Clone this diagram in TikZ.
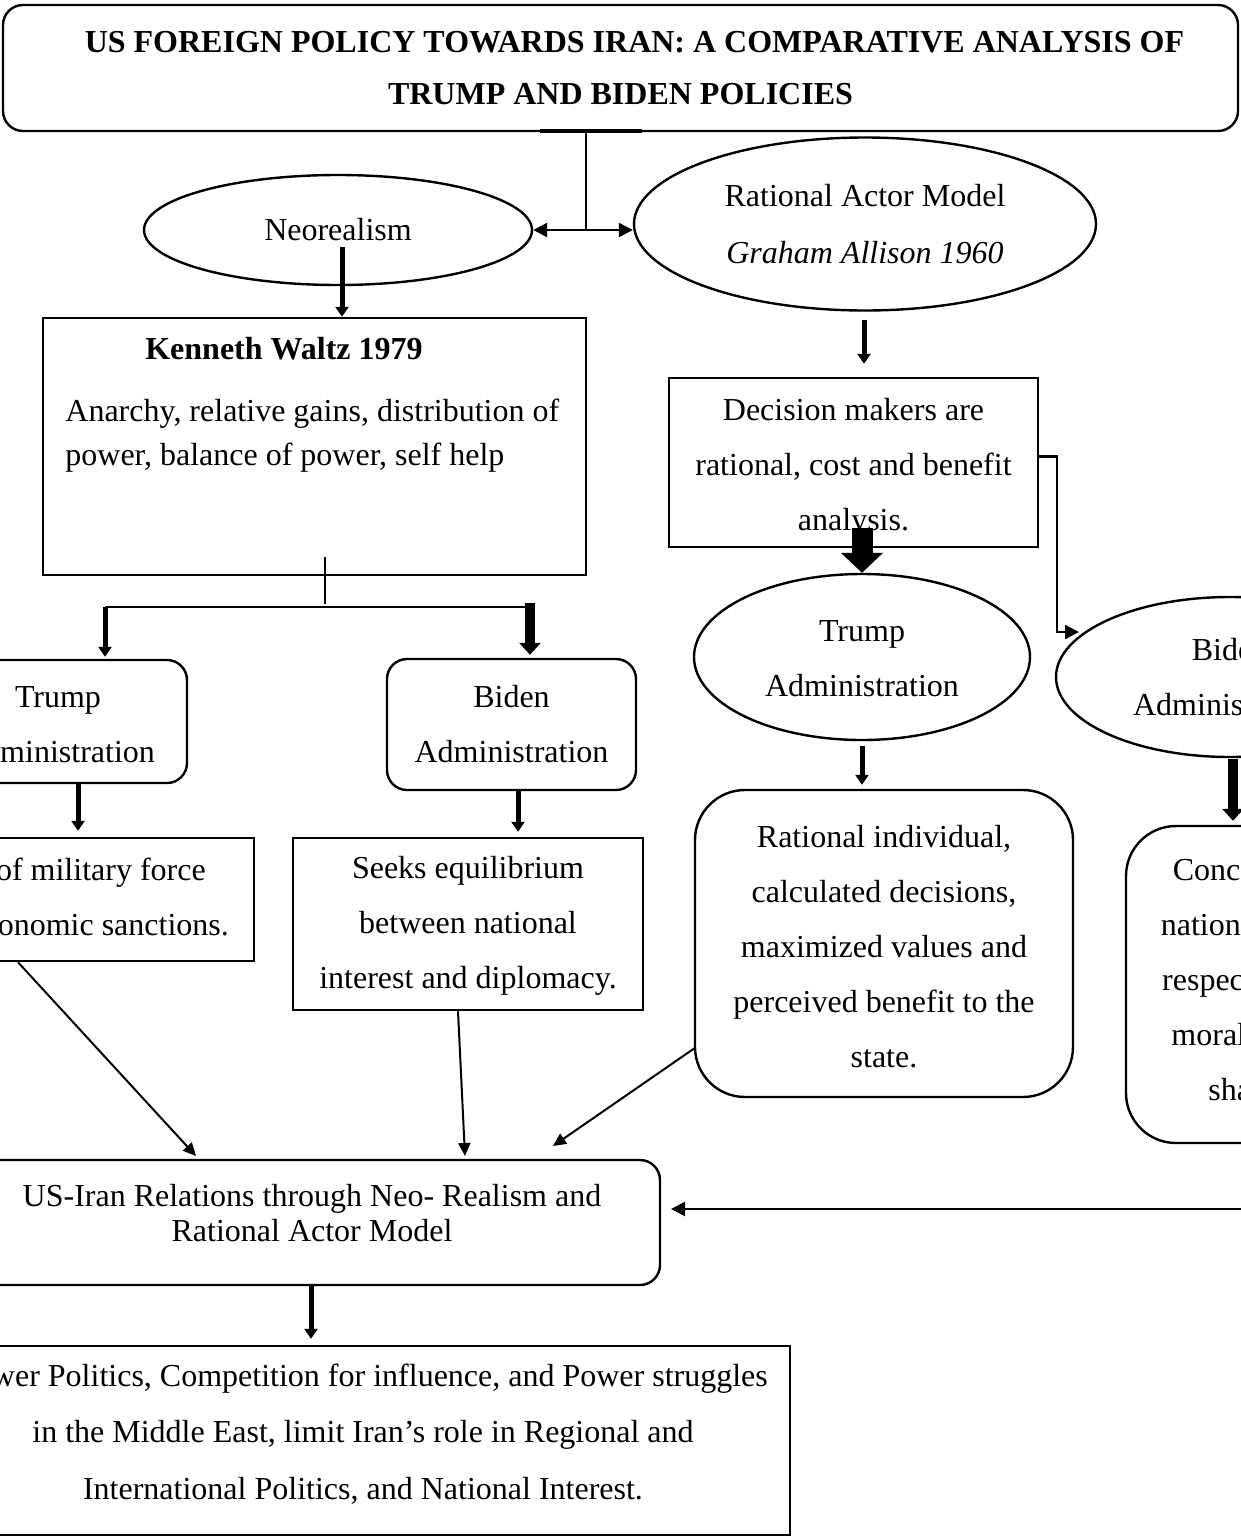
\documentclass[tikz,border=0pt]{standalone}
\usepackage{fontspec}
\setmainfont{Liberation Serif}
\usetikzlibrary{shapes.geometric,arrows.meta,calc}
\begin{document}
\begin{tikzpicture}[x=0.5pt,y=-0.5pt,
  every node/.style={font=\fontsize{16}{27.5}\selectfont, inner sep=0pt},
  bx/.style={draw, line width=1.2pt, rectangle, align=center},
  rbx/.style={bx, rounded corners=10pt},
  ell/.style={draw, line width=1.2pt, ellipse, align=center},
  conn/.style={line width=1.2pt, -{Triangle[length=7pt,width=7pt]}},
  tarr/.style={line width=2.5pt, -{Triangle[length=5pt,width=6.5pt]}},
  warr/.style={line width=5pt, -{Triangle[length=6pt,width=10.5pt]}},
  barr/.style={line width=10.5pt, -{Triangle[length=10pt,width=20.5pt]}},
  diag/.style={line width=1pt, -{Triangle[length=6.5pt,width=6pt]}}]
\fill[white] (0,0) rectangle (1241,1537);
\useasboundingbox (0,0) rectangle (1241,1537);
\clip (0,0) rectangle (1241,1537);

% title
\node[rbx, minimum width=617.5pt, minimum height=63pt, font=\bfseries\fontsize{16}{26}\selectfont] (title) at (620.5,68)
  {\hspace*{14pt}US FOREIGN POLICY TOWARDS IRAN: A COMPARATIVE ANALYSIS OF\\TRUMP AND BIDEN POLICIES};

% theories
\node[ell, minimum width=194pt, minimum height=55pt] (neo) at (338,230) {Neorealism};
\node[ell, minimum width=231pt, minimum height=86.5pt, font=\fontsize{16}{28.5}\selectfont] (rat) at (865,224)
  {Rational Actor Model\\\textit{Graham Allison 1960}};

% Waltz
\node[bx, minimum width=271.5pt, minimum height=128.5pt] (waltz) at (314.5,446.5) {};
\node[font=\bfseries\fontsize{16}{22}\selectfont] (kw) at (284,349) {Kenneth Waltz 1979};
\node[anchor=west, align=left, font=\fontsize{16}{22}\selectfont] (wt) at (65,436)
  {Anarchy, relative gains, distribution of\\power, balance of power, self help};

% left branch
\node[rbx, minimum width=129pt, minimum height=61.5pt] (tl) at (58,721.5) {};
\node[align=center] (tlt) at (58,725) {Trump\\Administration};
\node[rbx, minimum width=124.5pt, minimum height=65.5pt] (bl) at (511.5,724.5) {Biden\\Administration};
\node[bx, minimum width=182pt, minimum height=61.5pt] (lb) at (72,899.5) {};
\node[align=center] (lbt) at (72,897) {Use of military force\\and economic sanctions.};
\node[bx, minimum width=175pt, minimum height=86pt] (seeks) at (468,924) {};
\node[align=center] (seekst) at (468,926) {Seeks equilibrium\\between national\\interest and diplomacy.};

% right branch
\node[bx, minimum width=184.5pt, minimum height=84.5pt] (dec) at (853.5,462.5) {};
\node[align=center] (dect) at (853.5,467.5) {Decision makers are\\rational, cost and benefit\\analysis.};
\node[ell, minimum width=168pt, minimum height=83pt] (te) at (862,657) {};
\node[align=center] (tet) at (862,659) {Trump\\Administration};
\node[ell, minimum width=174pt, minimum height=80pt] (be) at (1230,677) {Biden\\Administration};
\node[rbx, rounded corners=25pt, minimum width=189pt, minimum height=153.5pt] (ri) at (884,943.5) {};
\node[align=center] (rit) at (884,947)
  {Rational individual,\\calculated decisions,\\maximized values and\\perceived benefit to the\\state.};
\node[rbx, rounded corners=25pt, minimum width=189pt, minimum height=158.5pt] (rc) at (1315,984.5) {};
\node[align=center] (rct) at (1315,980)
  {Concerned about their\\national interest, human\\respect for international\\moral obligations, and\\shared concerns.};

% synthesis
\node[rbx, minimum width=348pt, minimum height=62.5pt] (usi) at (312,1222.5) {};
\node[align=center, font=\fontsize{16}{17.5}\selectfont] (usit) at (312,1213.5)
  {US-Iran Relations through Neo- Realism and\\Rational Actor Model};
\node[bx, minimum width=427pt, minimum height=94.5pt] (fin) at (363,1440.5) {};
\node[align=center, font=\fontsize{16}{28.25}\selectfont] (fint) at (363,1434)
  {Power Politics, Competition for influence, and Power struggles\\in the Middle East, limit Iran’s role in Regional and\\International Politics, and National Interest.};

% connectors from title
\coordinate (tb1) at (540,131);
\coordinate (tb2) at (642,131);
\coordinate (tj) at (586,131);
\coordinate (tk) at (586,230);
\draw[line width=2pt] (tb1) -- (tb2);
\draw[conn] (tj) |- (neo.east);
\draw[conn] (tk) -- (tk -| rat.west);

% neo -> waltz
\coordinate (nw) at ($(neo.center)+(4,17)$);
\draw[tarr] (nw) -- (nw |- waltz.north);

% rat -> dec
\coordinate (rs) at ($(rat.south)+(-1,8)$);
\coordinate (re) at ($(rs |- dec.north)+(0,-13)$);
\draw[tarr] (rs) -- (re);

% waltz junction
\coordinate (wj) at (325,607);
\coordinate (wl) at (105,607);
\coordinate (wr) at (530,607);
\coordinate (wv1) at ($(wj |- waltz.south)+(0,-19)$);
\coordinate (wv2) at ($(wj)+(0,-3)$);
\draw[line width=0.6pt] (wv1) -- (wv2);
\draw[line width=1pt] (wl) -- (wr);
\coordinate (wle) at ($(wl |- tl.north)+(0,-2)$);
\draw[tarr] (wl) -- (wle);
\coordinate (wrs) at ($(wr)+(0,-4)$);
\coordinate (wre) at ($(wr |- bl.north)+(0,-3)$);
\draw[warr] (wrs) -- (wre);

% left admin -> outcomes
\coordinate (tls) at ($(tl.south)+(20,0)$);
\coordinate (tle) at ($(tls |- lb.north)+(0,-6)$);
\draw[tarr] (tls) -- (tle);
\coordinate (bls) at ($(bl.south)+(6.5,0)$);
\coordinate (ble) at ($(bls |- seeks.north)+(0,-5)$);
\draw[tarr] (bls) -- (ble);

% dec -> trump ellipse (big arrow)
\coordinate (ds) at ($(te.north |- dec.south)+(0,-20)$);
\draw[barr] (ds) -- (te.north);

% trump ellipse -> rational individual
\coordinate (ts) at ($(te.south)+(0,5)$);
\coordinate (tse) at ($(ts |- ri.north)+(0,-4)$);
\draw[tarr] (ts) -- (tse);

% dec -> biden ellipse elbow
\coordinate (bj) at (1057,632);
\coordinate (bt) at (1079,632);
\draw[conn] ($(dec.east)+(0,-6)$) -| (bj) -- (bt);

% biden ellipse -> right box
\coordinate (bs) at ($(be.south)+(3,1)$);
\coordinate (bse) at ($(bs |- rc.north)+(0,-4)$);
\draw[warr] (bs) -- (bse);

% into synthesis
\coordinate (d1s) at ($(lb.south)+(-54,0)$);
\coordinate (d1e) at (196,1156);
\draw[diag] (d1s) -- (d1e);
\coordinate (d2s) at ($(seeks.south)+(-10,0)$);
\coordinate (d2e) at (465,1156);
\draw[diag] (d2s) -- (d2e);
\coordinate (d3s) at ($(ri.west)+(1,104.5)$);
\coordinate (d3e) at (553,1146);
\draw[diag] (d3s) -- (d3e);
\coordinate (rr) at (1300,1209);
\coordinate (a4) at (671,1209);
\draw[conn] (rr) -- (a4);

% synthesis -> final
\coordinate (us) at ($(usi.south)+(-1,0)$);
\coordinate (ue) at ($(us |- fin.north)+(0,-6)$);
\draw[tarr] (us) -- (ue);
\end{tikzpicture}
\end{document}
